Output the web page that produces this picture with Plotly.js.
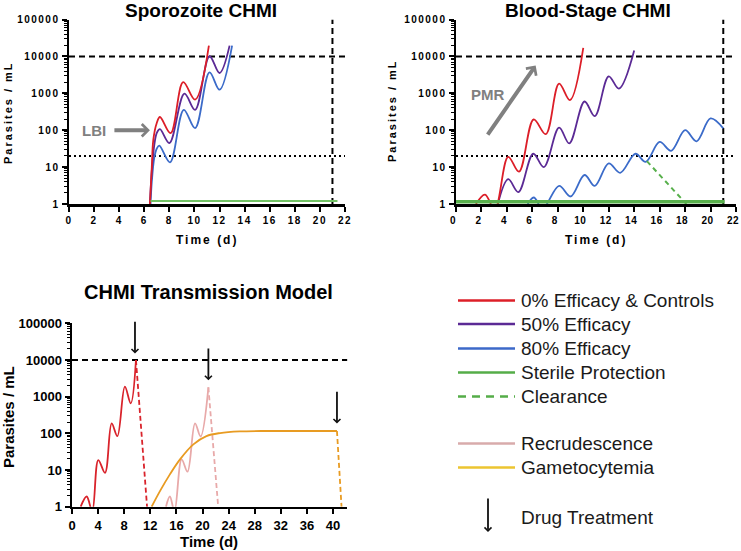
<!DOCTYPE html>
<html><head><meta charset="utf-8">
<script src="https://cdn.plot.ly/plotly-3.0.1.min.js"></script>
<style>
html,body{margin:0;padding:0;background:#fff;}
#chart{width:741px;height:551px;}
.subplot.xy .xtick text,.subplot.xy .ytick text,.subplot.x2y2 .y2tick text{letter-spacing:1.5px;}
.subplot.x2y2 .x2tick text{letter-spacing:0.5px;}
.annotation[data-index="0"] text,.annotation[data-index="1"] text,.annotation[data-index="2"] text,.annotation[data-index="3"] text{letter-spacing:2px;}
</style></head><body><div id="chart"></div><script>
// ---------- Data ----------
const yTickVals = [1, 10, 100, 1000, 10000, 100000];
const yTickText = ['1', '10', '100', '1000', '10000', '100000'];
const titles = ['Sporozoite CHMI', 'Blood-Stage CHMI', 'CHMI Transmission Model'];
const yTitle = 'Parasites / mL';
const xTitle = 'Time (d)';

// Reference levels
const thresholdHigh = 10000;
const thresholdLow = 20;
const endDay = 21;

// Sporozoite CHMI
const spzRedT = [6.45, 6.6, 6.72, 6.99, 7.25, 8.1, 9.1, 10.05, 11.15];
const spzRedP = [1, 10, 55, 155, 228, 83, 2000, 670, 19600];
const spzPurT = [6.45, 6.6, 6.8, 7.0, 7.25, 8.0, 9.2, 10.05, 11.2, 12.0, 12.8];
const spzPurP = [1, 8, 40, 85, 107, 45, 980, 357, 10100, 3550, 19600];
const spzBluT = [6.5, 6.6, 6.8, 7.0, 7.2, 8.05, 9.15, 10.05, 11.2, 12.0, 13.0];
const spzBluP = [1, 4, 18, 32, 38, 13.5, 357, 114, 3700, 1250, 19600];
const spzGrnT = [6.5, 21.4];
const spzGrnP = [1.2, 1.2];

// Blood-stage CHMI
const bsRedT = [1.57, 2.28, 3.05, 4.1, 4.95, 6.1, 7.05, 8.1, 8.95, 10.0];
const bsRedP = [1, 1.8, 0.7, 19, 7.5, 195, 78, 1820, 650, 17000];
const bsPurT = [3.05, 4.1, 4.9, 6.07, 6.9, 8.1, 8.9, 10.1, 10.9, 12.0, 12.8, 14.0];
const bsPurP = [0.45, 4.7, 2.1, 23, 10, 118, 44, 600, 240, 2870, 1340, 14500];
const bsBluT = [5.1, 6.1, 6.8, 8.1, 9.0, 10.1, 10.9, 12.0, 12.9, 14.1, 14.9, 16.0, 16.9, 18.0, 18.9, 20.0, 21.0];
const bsBluP = [0.4, 1.5, 0.75, 3.1, 1.6, 6.1, 3.1, 12.6, 7, 23, 13.9, 48, 27.6, 100, 50, 208, 112];
const bsClrT = [15.0, 18.1];
const bsClrP = [14.5, 1];
const bsGrnT = [0, 21.1];
const bsGrnP = [1.15, 1.15];

// Transmission model
const trRedT = [1.33, 2.25, 3.1, 4.03, 5.06, 6.08, 6.95, 8.1, 9.0, 9.8];
const trRedP = [1, 1.9, 0.75, 18.7, 8.4, 187, 84, 1880, 660, 10000];
const trRedClrT = [9.8, 11.5];
const trRedClrP = [10000, 1];
const trRecT = [14.4, 15.0, 15.7, 16.8, 17.7, 18.85, 19.7, 20.9];
const trRecP = [1, 1.9, 0.75, 19.5, 9, 188, 82, 1800];
const trRecClrT = [20.9, 22.4];
const trRecClrP = [1800, 1];
const trGamT = [12.2, 13.5, 15.0, 16.55, 18.6, 20.6, 22.7, 25.7, 30, 35, 40.6];
const trGamP = [1, 2.7, 7.6, 19.5, 50, 84, 102, 113, 116, 116, 116];
const trGamClrT = [40.6, 41.3];
const trGamClrP = [116, 1];
const drugDays = [9.65, 20.9, 40.6];
const drugLevels = [15000, 2800, 185];

// Annotated arrows
const lbiLabel = 'LBI', lbiFrom = 3.5, lbiTo = 6.45, lbiLevel = 100;
const pmrLabel = 'PMR', pmrFromT = 2.41, pmrFromP = 69, pmrToT = 6.26, pmrToP = 5700;

// Legend
const legendLabels = ['0% Efficacy & Controls', '50% Efficacy', '80% Efficacy', 'Sterile Protection', 'Clearance', 'Recrudescence', 'Gametocytemia'];
const legendColors = ['#dd1f28', '#5b2a95', '#3c69c9', '#55ad48', '#55ad48', '#d8abab', '#ecc531'];
const legendDash = ['solid', 'solid', 'solid', 'solid', 'dash', 'solid', 'solid'];
const drugLabel = 'Drug Treatment';

// ---------- Style ----------
const FONT = 'Liberation Sans, Arial, sans-serif';
const C = {red:'#dc1e28', pur:'#5b2a95', blu:'#3b6bc9', grn:'#58b04c', grnL:'#72c265',
           red3:'#d9232b', pink:'#e8a9a9', org:'#e89b22', gray:'#808080'};
const W = 741, H = 551;
const px = v => v / W, py = v => 1 - v / H;

function line(x, y, xa, ya, color, width, dash, shape) {
  return {x, y, xaxis:xa, yaxis:ya, type:'scatter', mode:'lines', hoverinfo:'skip', showlegend:false,
          line:{color, width, dash: dash || 'solid', shape: shape || 'linear', smoothing: 1}};
}

const traces = [];
[['x','y',22],['x2','y2',22]].forEach(([xa,ya,xm]) => {
  traces.push(line([0, xm], [thresholdHigh, thresholdHigh], xa, ya, '#000', 2, '6px,4px'));
  traces.push(line([0, xm], [thresholdLow, thresholdLow], xa, ya, '#000', 2, '2px,3px'));
  traces.push(line([endDay, endDay], [1, 100000], xa, ya, '#000', 2, '6px,4px'));
});
traces.push(line([0, 42.2], [thresholdHigh, thresholdHigh], 'x3', 'y3', '#000', 2, '6px,4px'));

// Sporozoite
traces.push(line(spzBluT, spzBluP, 'x', 'y', C.blu, 1.8, null, 'spline'));
traces.push(line(spzPurT, spzPurP, 'x', 'y', C.pur, 1.8, null, 'spline'));
traces.push(line(spzRedT, spzRedP, 'x', 'y', C.red, 1.8, null, 'spline'));
traces.push(line(spzGrnT, spzGrnP, 'x', 'y', C.grnL, 2));
// Blood stage
traces.push(line(bsBluT, bsBluP, 'x2', 'y2', C.blu, 1.8, null, 'spline'));
traces.push(line(bsPurT, bsPurP, 'x2', 'y2', C.pur, 1.8, null, 'spline'));
traces.push(line(bsRedT, bsRedP, 'x2', 'y2', C.red, 1.8, null, 'spline'));
traces.push(line(bsClrT, bsClrP, 'x2', 'y2', C.grn, 2, '5px,4px'));
traces.push(line(bsGrnT, bsGrnP, 'x2', 'y2', C.grn, 3.5));
// Transmission
traces.push(line(trRecT, trRecP, 'x3', 'y3', C.pink, 1.8, null, 'spline'));
traces.push(line(trRecClrT, trRecClrP, 'x3', 'y3', C.pink, 1.8, '5px,3px'));
traces.push(line(trGamT, trGamP, 'x3', 'y3', C.org, 1.8, null, 'spline'));
traces.push(line(trGamClrT, trGamClrP, 'x3', 'y3', C.org, 1.8, '5px,3px'));
traces.push(line(trRedT, trRedP, 'x3', 'y3', C.red3, 1.8, null, 'spline'));
traces.push(line(trRedClrT, trRedClrP, 'x3', 'y3', C.red3, 1.8, '5px,3px'));

function xAx(domain, range, dtick, anchor, fs, shift) {
  return {domain, range, anchor, tickmode:'linear', tick0:0, dtick,
    showline:true, linecolor:'#000', linewidth:2.5, ticks:'outside', ticklen:5, tickwidth:2, tickcolor:'#000',
    showgrid:false, zeroline:false, fixedrange:true, ticklabeloverflow:'allow', ticklabelshift: shift || 0,
    tickfont:{family:FONT, size:fs, color:'#000', weight:'bold'}};
}
function yAx(domain, anchor, fs) {
  return {domain, anchor, type:'log', range:[0, 5], tickmode:'array', tickvals:yTickVals, ticktext:yTickText,
    showline:true, linecolor:'#000', linewidth:2.5, ticks:'outside', ticklen:5, tickwidth:2, tickcolor:'#000',
    minor:{ticks:'outside', ticklen:3, tickwidth:1, tickcolor:'#000', dtick:'D1', showgrid:false},
    showgrid:false, zeroline:false, fixedrange:true, ticklabeloverflow:'allow',
    tickfont:{family:FONT, size:fs, color:'#000', weight:'bold'}};
}

const bold = (size, color) => ({family:FONT, size, color: color || '#000', weight:'bold'});
function txt(text, x, y, font, extra) {
  return Object.assign({text, x:px(x), y:py(y), xref:'paper', yref:'paper', showarrow:false,
    xanchor:'center', yanchor:'middle', font}, extra || {});
}

const annotations = [
  txt(yTitle, 8, 113, bold(11), {textangle:-90}),
  txt(yTitle, 392, 111, bold(11), {textangle:-90}),
  txt(xTitle, 207, 240, bold(12)),
  txt(xTitle, 596, 240, bold(12)),
  txt(titles[0], 201, 11, bold(19)),
  txt(titles[1], 588, 11, bold(19)),
  txt(titles[2], 208.5, 292, bold(20)),
  txt(yTitle, 8, 417, bold(15), {textangle:-90}),
  txt(xTitle, 208.7, 541, bold(15)),
  {text:lbiLabel, x:1.98, y:Math.log10(lbiLevel), xref:'x', yref:'y', showarrow:false,
   font:bold(15, C.gray), xanchor:'center', yanchor:'middle'},
  {text:'', x:lbiTo, y:Math.log10(lbiLevel), xref:'x', yref:'y', ax:lbiFrom, ay:Math.log10(lbiLevel),
   axref:'x', ayref:'y', showarrow:true, arrowhead:4, arrowsize:0.6, arrowwidth:4, arrowcolor:C.gray},
  {text:pmrLabel, x:2.5, y:2.98, xref:'x2', yref:'y2', showarrow:false,
   font:bold(15, C.gray), xanchor:'center', yanchor:'middle'},
  {text:'', x:pmrToT, y:Math.log10(pmrToP), xref:'x2', yref:'y2', ax:pmrFromT, ay:Math.log10(pmrFromP),
   axref:'x2', ayref:'y2', showarrow:true, arrowhead:4, arrowsize:0.6, arrowwidth:4, arrowcolor:C.gray}
];
drugDays.forEach((d, i) => {
  annotations.push({text:'', x:d, y:Math.log10(drugLevels[i]), xref:'x3', yref:'y3',
    ax:d, ay:Math.log10(drugLevels[i]) + 0.91, axref:'x3', ayref:'y3',
    showarrow:true, arrowhead:4, arrowsize:0.75, arrowwidth:1.8, arrowcolor:'#111'});
});

// Legend (manual)
const legendRows = [300.5, 324, 348.5, 372.5, 396.5, 443.5, 467.5];
const shapes = [];
legendLabels.forEach((lab, i) => {
  shapes.push({type:'line', xref:'paper', yref:'paper', x0:px(458), x1:px(515), y0:py(legendRows[i]), y1:py(legendRows[i]),
    line:{color:legendColors[i], width:2.5, dash: legendDash[i] === 'dash' ? '8px,6px' : 'solid'}});
  annotations.push(txt(lab, 519, legendRows[i], {family:FONT, size:19, color:'#1a1a1a'}, {xanchor:'left'}));
});
annotations.push(txt(drugLabel, 519, 517, {family:FONT, size:19, color:'#1a1a1a'}, {xanchor:'left'}));
annotations.push({text:'', x:px(488), y:py(532), xref:'paper', yref:'paper', ax:0, ay:-35,
  showarrow:true, arrowhead:4, arrowsize:0.75, arrowwidth:1.8, arrowcolor:'#111'});

const layout = {
  width:W, height:H, margin:{l:0, r:0, t:0, b:0}, paper_bgcolor:'#fff', plot_bgcolor:'rgba(0,0,0,0)',
  font:{family:FONT, color:'#000'}, showlegend:false,
  xaxis: xAx([px(69), px(345)], [0, 22], 2, 'y', 10),
  yaxis: yAx([py(204), py(19.5)], 'x', 10),
  xaxis2: xAx([px(456), px(736)], [0, 22], 2, 'y2', 10, -3),
  yaxis2: yAx([py(204), py(19.5)], 'x2', 10),
  xaxis3: xAx([px(72), px(347.4)], [0, 42.2], 4, 'y3', 13),
  yaxis3: yAx([py(506.7), py(323.3)], 'x3', 13),
  annotations, shapes
};

Plotly.newPlot('chart', traces, layout, {displayModeBar:false, staticPlot:true});
</script></body></html>
